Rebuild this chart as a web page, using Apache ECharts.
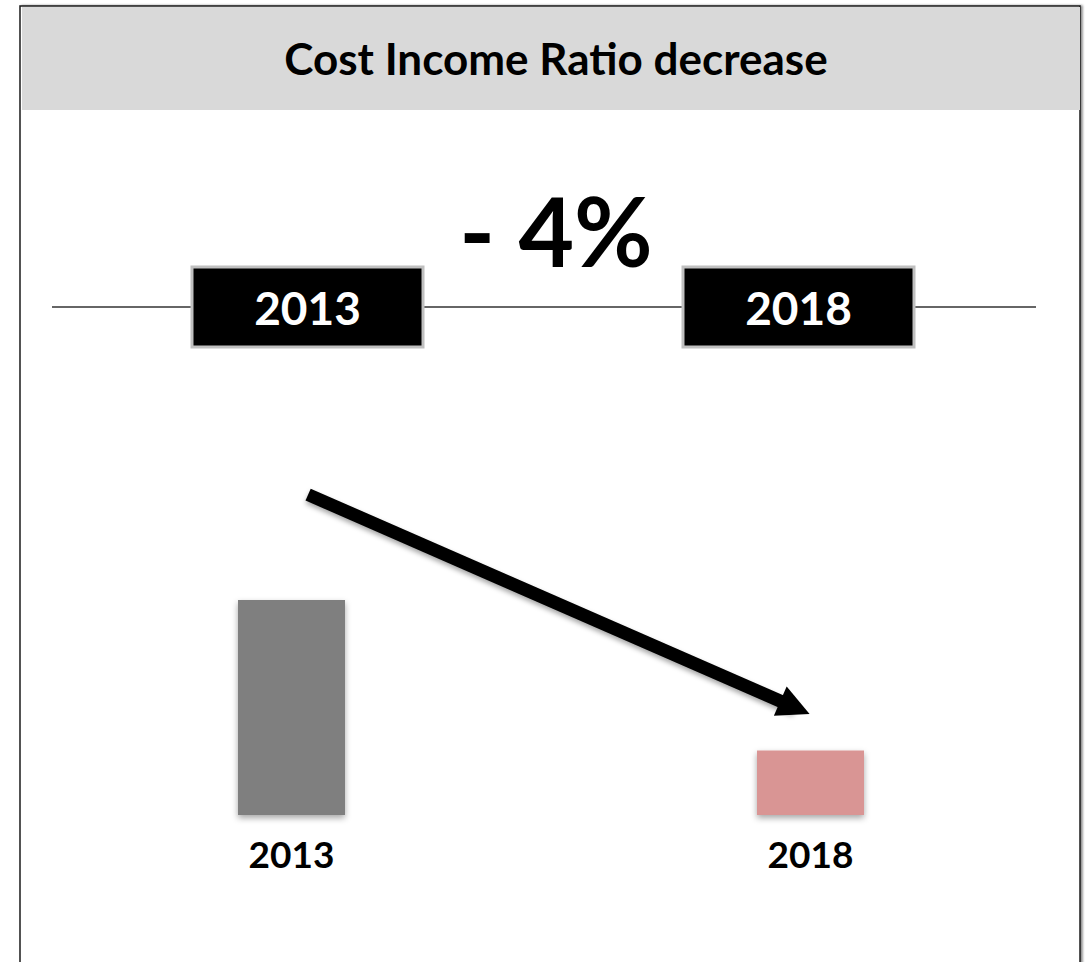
<!DOCTYPE html>
<html>
<head>
<meta charset="utf-8">
<style>
html,body{margin:0;padding:0;background:#fff;}
#chart{width:1086px;height:962px;}
</style>
<script src="https://cdn.jsdelivr.net/npm/echarts@6/dist/echarts.min.js"></script>
</head>
<body>
<div id="chart"></div>
<script>
// ---- data ----
const titleText = 'Cost Income Ratio decrease';
const changeText = '- 4%';
const timelineYears = ['2013', '2018'];
const categories = ['2013', '2018'];
const barValues = [100, 30];           // relative bar heights
const barColors = ['#7f7f7f', '#d99594'];
const arrowFrom = [0.032, 149];        // arrow annotation in data units (x: category index, y: value)
const arrowTo = [0.97, 50];

const FONT = 'Lato';
const chart = echarts.init(document.getElementById('chart'), null, {renderer: 'svg'});

chart.setOption({
  animation: false,
  backgroundColor: '#ffffff',
  title: [
    {
      text: titleText, left: 551, top: 31, textAlign: 'center',
      textStyle: {fontFamily: FONT, fontWeight: 'bold', fontSize: 44, color: '#000'}
    },
    {
      text: changeText, left: 551, top: 176, textAlign: 'center',
      textStyle: {fontFamily: FONT, fontWeight: 'bold', fontSize: 96, color: '#000'}
    }
  ],
  graphic: [
    {type: 'rect', z: -10, shape: {x: 20, y: 6, width: 1060, height: 980},
     style: {fill: '#fff', stroke: '#1a1a1a', lineWidth: 1.5, shadowColor: 'rgba(0,0,0,0.45)', shadowOffsetX: 2, shadowBlur: 2}},
    {type: 'rect', z: -9, shape: {x: 22, y: 7, width: 1058, height: 103},
     style: {fill: '#d9d9d9'}},
    {type: 'line', z: -8, shape: {x1: 52, y1: 307, x2: 1036, y2: 307},
     style: {stroke: '#666666', lineWidth: 2}}
  ],
  grid: [
    {left: 32, right: 16, top: 385, bottom: 147},
    {left: 62, right: 42, top: 306, height: 1}
  ],
  xAxis: [
    {
      type: 'category', gridIndex: 0, data: categories,
      axisLine: {show: false}, axisTick: {show: false}, splitLine: {show: false},
      axisLabel: {margin: 20, fontFamily: FONT, fontWeight: 'bold', fontSize: 37, color: '#000'}
    },
    {
      type: 'value', gridIndex: 0, min: -0.5, max: 1.5, show: false
    },
    {
      type: 'category', gridIndex: 1, data: timelineYears, position: 'bottom', z: 5,
      axisLine: {show: false}, axisTick: {show: false}, splitLine: {show: false},
      axisLabel: {
        margin: 0, verticalAlign: 'middle', fontFamily: FONT, fontWeight: 'bold', fontSize: 46,
        color: '#fff', backgroundColor: '#000', borderColor: '#c0c0c0', borderWidth: 3,
        width: 228, height: 77, lineHeight: 77, align: 'center'
      }
    }
  ],
  yAxis: [
    {type: 'value', gridIndex: 0, min: 0, max: 200, show: false, splitLine: {show: false}},
    {type: 'value', gridIndex: 1, show: false, splitLine: {show: false}}
  ],
  series: [
    {
      type: 'bar', xAxisIndex: 0, yAxisIndex: 0, barWidth: 107,
      data: barValues.map((v, i) => ({value: v, itemStyle: {color: barColors[i]}})),
      itemStyle: {shadowColor: 'rgba(0,0,0,0.35)', shadowBlur: 6, shadowOffsetY: 3}
    },
    {
      type: 'lines', coordinateSystem: 'cartesian2d', xAxisIndex: 1, yAxisIndex: 0,
      symbol: ['none', 'triangle'], symbolSize: [34, 32],
      lineStyle: {color: '#000', width: 13, opacity: 1, curveness: 0,
                  shadowColor: 'rgba(0,0,0,0.35)', shadowBlur: 5, shadowOffsetY: 3},
      data: [{coords: [arrowFrom, arrowTo]}]
    }
  ]
});
</script>
</body>
</html>
